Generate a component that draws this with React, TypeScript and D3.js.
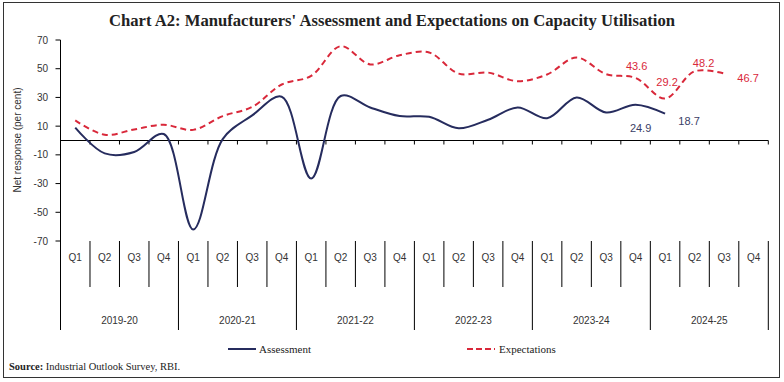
import React from "react";
import * as d3 from "d3";

const years = ["2019-20", "2020-21", "2021-22", "2022-23", "2023-24", "2024-25"];
const quarters = ["Q1", "Q2", "Q3", "Q4"];
const yTicks = [70, 50, 30, 10, -10, -30, -50, -70];
const assessment = [9, -9, -8, 4.5, -62, 1, 17.5, 30.5, -26.5, 31, 23, 17, 16.5, 8.5, 14.5, 23, 15.5, 30, 19.5, 24.9, 18.7];
const expectations = [14, 4, 7.7, 11, 7.4, 17, 23.4, 39, 45, 65.7, 53, 59.4, 61.3, 46.6, 47.3, 41.3, 46, 57.8, 46.2, 43.6, 29.2, 48.2, 46.7];
const assessLabelIdx = [19, 20];
const expectLabelIdx = [19, 20, 21, 22];

const W = 784, H = 382;
const NAVY = "#262c5e";
const RED = "#d9283a";
const SANS = "'Liberation Sans', Arial, sans-serif";
const SERIF = "'Liberation Serif', 'DejaVu Serif', serif";

// label offsets (styling), relative to the point
const labelOffsets: Record<string, [number, number]> = {
  "a19": [5, 23], "a20": [24, 7],
  "e19": [1, -12], "e20": [2, -16], "e21": [9, -8], "e22": [24, 5],
};

export default function App() {
  const cats = years.flatMap((y) => quarters.map((q) => `${y} ${q}`));
  const x = d3.scaleBand<number>().domain(d3.range(cats.length)).range([60.5, 768.3]);
  const y = d3.scaleLinear().domain([-70, 70]).range([241, 40]);
  const cx = (i: number) => (x(i) as number) + x.bandwidth() / 2;
  const line = d3
    .line<number>()
    .x((_, i) => cx(i))
    .y((d) => y(d))
    .curve(d3.curveCatmullRom.alpha(0.5));
  const y0 = y(0);
  const bottom = y(-70);
  const left = 60.5;
  const right = 768.3;

  return (
    <svg width={W} height={H} style={{ position: "absolute", left: 0, top: 0, background: "#fff" }}>
      <rect x={3.5} y={2.5} width={776} height={375} fill="#fff" stroke="#333" strokeWidth={1} />
      <text x={392} y={25.5} textAnchor="middle" fontFamily={SERIF} fontWeight="bold" fontSize={16} fill="#222" textLength={566} lengthAdjust="spacingAndGlyphs">
        Chart A2: Manufacturers' Assessment and Expectations on Capacity Utilisation
      </text>

      {/* y axis */}
      <line x1={left} x2={left} y1={40} y2={330} stroke="#000" strokeWidth={1} />
      {yTicks.map((t) => (
        <g key={t}>
          <line x1={left - 5} x2={left} y1={y(t)} y2={y(t)} stroke="#000" />
          <text x={48} y={y(t)} dy="0.35em" textAnchor="end" fontFamily={SANS} fontSize={10} fill="#333">
            {t}
          </text>
        </g>
      ))}
      <text
        transform={`translate(21,140) rotate(-90)`}
        textAnchor="middle"
        fontFamily={SANS}
        fontSize={10}
        fill="#333"
      >
        Net response (per cent)
      </text>

      {/* zero line with ticks */}
      <line x1={left} x2={right} y1={y0} y2={y0} stroke="#000" strokeWidth={1.2} />
      {d3.range(cats.length + 1).map((i) => {
        const bx = left + i * x.step();
        return <line key={i} x1={bx} x2={bx} y1={y0} y2={y0 + 4} stroke="#000" />;
      })}

      {/* category axis */}
      {d3.range(cats.length + 1).map((i) => {
        const bx = left + i * x.step();
        const isYear = i % 4 === 0;
        return <line key={"d" + i} x1={bx} x2={bx} y1={bottom} y2={isYear ? 330 : 287} stroke="#000" />;
      })}
      {cats.map((c, i) => (
        <text key={c} x={cx(i)} y={257} dy="0.35em" textAnchor="middle" fontFamily={SANS} fontSize={10} fill="#333">
          {quarters[i % 4]}
        </text>
      ))}
      {years.map((yr, j) => (
        <text
          key={yr}
          x={left + (j * 4 + 2) * x.step()}
          y={320}
          dy="0.35em"
          textAnchor="middle"
          fontFamily={SANS}
          fontSize={10}
          fill="#333"
        >
          {yr}
        </text>
      ))}

      {/* series */}
      <path d={line(expectations) || ""} fill="none" stroke={RED} strokeWidth={2} strokeDasharray="6,4" />
      <path d={line(assessment) || ""} fill="none" stroke={NAVY} strokeWidth={2} />

      {expectLabelIdx.map((i) => {
        const [dx, dy] = labelOffsets["e" + i];
        return (
          <text key={"e" + i} x={cx(i) + dx} y={y(expectations[i]) + dy} dy="0.35em" textAnchor="middle" fontFamily={SANS} fontSize={11} fill={RED}>
            {expectations[i].toFixed(1)}
          </text>
        );
      })}
      {assessLabelIdx.map((i) => {
        const [dx, dy] = labelOffsets["a" + i];
        return (
          <text key={"a" + i} x={cx(i) + dx} y={y(assessment[i]) + dy} dy="0.35em" textAnchor="middle" fontFamily={SANS} fontSize={11} fill="#3a3e66">
            {assessment[i].toFixed(1)}
          </text>
        );
      })}

      {/* legend */}
      <line x1={228} x2={256} y1={349} y2={349} stroke={NAVY} strokeWidth={2} />
      <text x={259} y={349} dy="0.35em" fontFamily={SERIF} fontSize={11} fill="#222">Assessment</text>
      <line x1={467} x2={495} y1={349} y2={349} stroke={RED} strokeWidth={2} strokeDasharray="6,3" />
      <text x={499} y={349} dy="0.35em" fontFamily={SERIF} fontSize={11} fill="#222">Expectations</text>

      <text x={9} y={366} dy="0.35em" fontFamily={SERIF} fontSize={10.5} fill="#222">
        <tspan fontWeight="bold">Source:</tspan> Industrial Outlook Survey, RBI.
      </text>
    </svg>
  );
}
